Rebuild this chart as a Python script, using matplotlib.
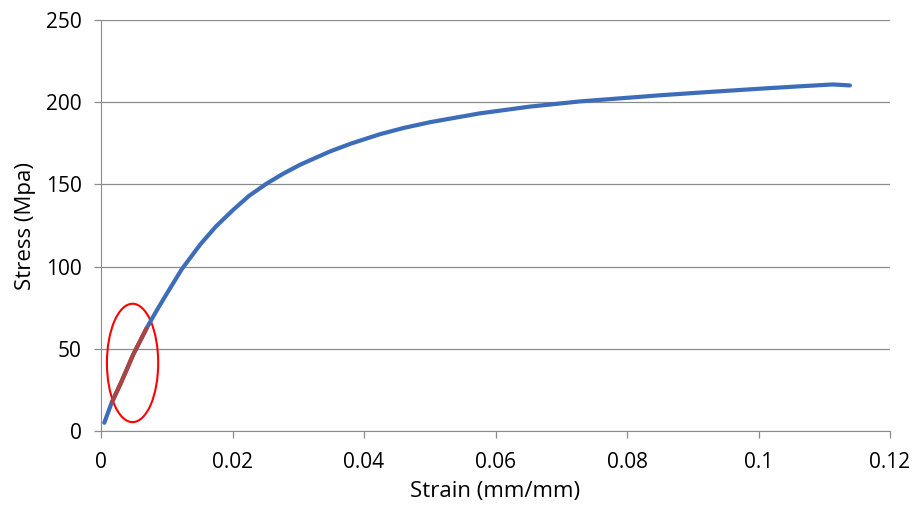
import numpy as np
import matplotlib.pyplot as plt
from matplotlib.patches import Ellipse

plt.rcParams['font.family'] = ['Open Sans', 'DejaVu Sans']

strain = [0.0005, 0.0016, 0.003, 0.0049, 0.007, 0.0085, 0.010, 0.0123, 0.0151, 0.0175,
          0.0201, 0.0225, 0.0252, 0.0277, 0.0303, 0.0348, 0.038, 0.0424, 0.046,
          0.050, 0.0576, 0.0652, 0.0729, 0.085, 0.092, 0.1002, 0.106, 0.1113, 0.1139]
stress = [5, 17, 29, 46.5, 63, 73.5, 83.5, 98.5, 113.5, 124.5,
          134.5, 143, 150.5, 156.5, 162, 170, 174.8, 180.5, 184.3,
          187.8, 193.2, 197.3, 200.5, 204.2, 206.1, 208.2, 209.6, 210.8, 210.2]

# elastic region highlighted in red
red_from = 0.0016
red_to = 0.007

# ellipse around elastic region (center strain, center stress, width, height)
ell_x, ell_y, ell_w, ell_h = 0.0048, 41.4, 0.0078, 72

x = np.array(strain)
y = np.array(stress)
mask = (x >= red_from) & (x <= red_to)

fig = plt.figure(figsize=(9.14, 5.11), dpi=100)
ax = fig.add_axes([101/914, 80/511, 789/914, 411/511])

ax.plot(x, y, color='#3D6DB8', lw=3, solid_capstyle='round', solid_joinstyle='round')
ax.plot(x[mask], y[mask], color='#AD4442', lw=3, solid_capstyle='butt')
ax.add_patch(Ellipse((ell_x, ell_y), ell_w, ell_h, fill=False, edgecolor='#FF0000', lw=1.5))

ax.set_xlim(0, 0.12)
ax.set_ylim(0, 250)
ax.set_xticks([0, 0.02, 0.04, 0.06, 0.08, 0.1, 0.12])
ax.set_xticklabels(['0', '0.02', '0.04', '0.06', '0.08', '0.1', '0.12'])
ax.set_yticks([0, 50, 100, 150, 200, 250])
ax.grid(True, axis='y', color='#8C8C8C', lw=0.9)
ax.set_axisbelow(True)

for s in ['top', 'right']:
    ax.spines[s].set_visible(False)
for s in ['left', 'bottom']:
    ax.spines[s].set_color('#8C8C8C')
ax.tick_params(colors='#8C8C8C', labelcolor='black', labelsize=15, length=5, width=0.9)
ax.tick_params(axis='y', pad=9)
ax.tick_params(axis='x', pad=10)

ax.set_xlabel('Strain (mm/mm)', fontsize=16, labelpad=6)
ax.set_ylabel('Stress (Mpa)', fontsize=16, labelpad=7)

fig.savefig('out.png', dpi=100)
